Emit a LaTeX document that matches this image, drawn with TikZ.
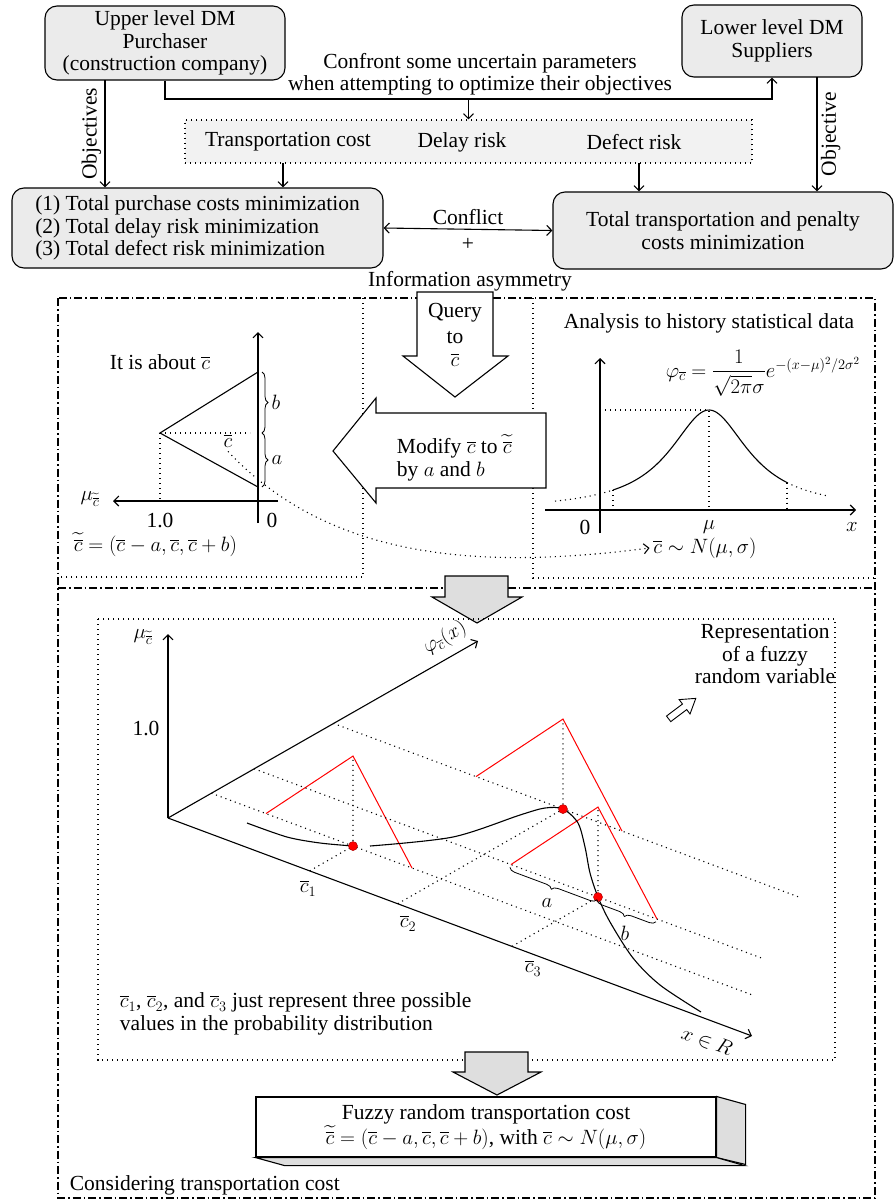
\documentclass[tikz,border=0pt]{standalone}
\usepackage{amsmath}
\usepackage{fontspec}
\setmainfont{Liberation Serif}
\usetikzlibrary{calc,arrows.meta,decorations.pathreplacing}

\newcommand{\cbr}{\overline{c}}
\newcommand{\cfz}{\widetilde{\overline{c}}}

\begin{document}
\begin{tikzpicture}[x=1pt, y=-1pt, line width=1.1pt,
  >={Straight Barb[length=5pt, width=10pt]},
  font=\fontsize{21.5}{22.5}\selectfont,
  rbox/.style = {draw, rounded corners=12pt, fill=black!8, align=center, inner sep=0pt},
  dotline/.style = {dash pattern=on 1.1pt off 3.9pt},
  dashdot/.style = {dash pattern=on 8pt off 3pt on 1.5pt off 3pt},
  fuzzy/.style = {red, line width=1pt},
  rdot/.style = {circle, fill=red, draw=red!70!black, line width=0.5pt, inner sep=0pt, minimum size=9pt},
  blockarr/.style = {draw, fill=white, line join=miter},
  grayarr/.style = {draw, fill=black!13, line join=miter}]

\useasboundingbox (0,0) rectangle (895,1202);

% decision makers and their objectives
\node[rbox, minimum width=240, minimum height=74] (upper) at (165,43) {Upper level DM\\Purchaser\\(construction company)};
\node[rbox, minimum width=180, minimum height=72] (lower) at (772,41) {Lower level DM\\Suppliers};
\node[align=center] (confront) at (480,74) {Confront some uncertain parameters\\when attempting to optimize their objectives};
\node[draw, dotline, fill=black!5, minimum width=567, minimum height=43] (params) at (468.5,141.5) {};
\node (tcost) at (288,142) {Transportation cost};
\node (delay) at (462,142) {Delay risk};
\node (defect) at (634,142) {Defect risk};
\node[rbox, align=left, minimum width=371, minimum height=80] (upobj) at (197.5,228) {(1) Total purchase costs minimization\\(2) Total delay risk minimization\\(3) Total defect risk minimization};
\node[rbox, minimum width=340, minimum height=77] (lowobj) at (723,230.5) {Total transportation and penalty\\costs minimization};

\coordinate (split) at (468.5,99);
\draw[->] (upper.south) |- (split) -| (lower.south);
\draw[->] (split) -- (params.north);
\coordinate (objl) at (105,80);
\coordinate (objr) at (817,77);
\draw[->] (objl) -- (objl |- upobj.north) node[midway, above, rotate=90] (objs) {Objectives};
\draw[->] (objr) -- (objr |- lowobj.north) node[midway, below, rotate=90] (obj) {Objective};
\coordinate (tca) at (283,163);
\coordinate (dfa) at (639,163);
\draw[->] (tca) -- (tca |- upobj.north);
\draw[->] (dfa) -- (dfa |- lowobj.north);
\draw[<->] (upobj.east) -- (lowobj.west) node[midway, above=1pt] (conf) {Conflict} node[midway, below=5pt] (plus) {+};

% information asymmetry panel
\node (info) at (470,281) {Information asymmetry};
\draw[dashdot] (58,298) rectangle (875,1198);
\draw[dashdot] (58,588) -- (875,588);
\draw[dotline] (363,298) -- (363,577) -- (58,577);
\draw[dotline] (533,298) -- (533,578) -- (875,578);

\draw[blockarr] (417,292) -- (493,292) -- (493,356) -- (508,356) -- (455,397) -- (403,356) -- (417,356) -- cycle;
\node[align=center] (query) at (455,335) {Query\\[3pt]to\\[1pt]$\cbr$};
\draw[blockarr] (546,413) -- (546,488) -- (376,488) -- (376,503) -- (333,451) -- (376,398) -- (376,413) -- cycle;
\node[align=left, anchor=west] (modify) at (393,458) {Modify $\cbr$ to $\cfz$\\by $a$ and $b$};

% triangular fuzzy number
\draw[->] (258,523) -- (258,332);
\draw[->] (278,501) -- (113,501);
\node (mul) at (90,499) {$\mu_{\cfz}$};
\node (one) at (160,520) {1.0};
\node (zero) at (272,520) {0};
\coordinate (ap) at (160,433);
\coordinate (tb) at (258,372);
\coordinate (ta) at (258,487);
\draw (tb) -- (ap) -- (ta);
\draw[dotline] (ap) -- (250,433);
\draw[dotline] (ap) -- (160,501);
\node (cbl) at (228,441) {$\cbr$};
\node (about) at (160,362) {It is about $\cbr$};
\draw[decorate, decoration={brace, amplitude=6pt}, line width=0.8pt] (262,372) -- (262,433) node[midway, right=6pt] (blab) {$b$};
\draw[decorate, decoration={brace, amplitude=6pt}, line width=0.8pt] (262,433) -- (262,487) node[midway, right=6pt] (alab) {$a$};
\node[anchor=west] (tfn) at (70,545) {$\cfz = (\cbr - a, \cbr, \cbr + b)$};

% normal distribution
\draw[->] (600,533) -- (600,358);
\draw[->] (545,510) -- (856,510);
\draw[dotline] (600,410) -- (709,410) -- (709,510);
\draw[domain=613:787, samples=80] plot (\x, {510-100/(1+((\x-709)/48)^2)});
\draw[dotline, domain=555:613, samples=20] plot (\x, {510-100/(1+((\x-709)/48)^2)});
\draw[dotline, domain=787:827, samples=20] plot (\x, {510-100/(1+((\x-709)/48)^2)});
\draw[dotline] (613,490) -- (613,510);
\draw[dotline] (787,482.5) -- (787,510);
\node (zr) at (585,527) {0};
\node (mu) at (709,527) {$\mu$};
\node (xl) at (852,527) {$x$};
\node (phi) at (763,373) {$\varphi_{\cbr} = \dfrac{1}{\sqrt{2\pi}\sigma}e^{-(x-\mu)^2/2\sigma^2}$};
\node (hist) at (709,323) {Analysis to history statistical data};
\node (norm) at (705,548) {$\cbr \sim N(\mu,\sigma)$};
\draw[dotline, ->] (cbl.south) .. controls (330,560) and (480,570) .. (norm.west);

\draw[grayarr] (445,576) -- (508,576) -- (508,597) -- (522,597) -- (477,623) -- (432,597) -- (445,597) -- cycle;

% fuzzy random variable
\draw[dotline] (98,619) rectangle (835,1060);
\coordinate (O) at (168,818);
\draw[->] (O) -- (168,634);
\draw[->] (O) -- (478,641);
\draw[->] (O) -- (752,1036);
\node (muz) at (143,637) {$\mu_{\cfz}$};
\node (onez) at (146,728) {1.0};
\node[rotate=29.7] (phiz) at (445,638) {$\varphi_{\cbr}(x)$};
\node[rotate=-20.5] (xr) at (707,1041) {$x \in R$};

\foreach \n/\t/\s/\e in {1/141.7/43.3/540.7, 2/229.8/165.2/466.8, 3/344/86/508} {
  \coordinate (P\n) at ($(O)+(\t,{0.373*\t})$);
  \coordinate (F\n) at ($(O)+(\s,{-0.573*\s})$);
  \coordinate (Q\n) at ($(P\n)+(\s,{-0.573*\s})$);
  \coordinate (E\n) at ($(F\n)+(\e,{0.373*\e})$);
  \coordinate (A\n) at ($(Q\n)+(0,-90)$);
  \coordinate (L\n) at ($(Q\n)+(-87,-32.5)$);
  \coordinate (R\n) at ($(Q\n)+(59,22)$);
  \draw[dotline] (F\n) -- (E\n);
  \draw[dotline] (P\n) -- (Q\n) -- (A\n);
  \draw[fuzzy] (L\n) -- (A\n) -- (R\n);
}

\draw plot[smooth] coordinates {(247,823) (287,837) (320,843) (353,846)};
\draw plot[smooth] coordinates {(370,846) (453,837) (520,815) (545,808) (563,809) (578,823) (585,847) (590,873) (598,897) (610,922) (633,958) (660,985) (701,1012)};

\foreach \n in {1,2,3} \node[rdot] (d\n) at (Q\n) {};

\node (c1) at (308,888) {$\cbr_1$};
\node (c2) at (408,923) {$\cbr_2$};
\node (c3) at (533,968) {$\cbr_3$};
\draw[decorate, decoration={brace, mirror, amplitude=6pt, raise=3pt}, line width=0.8pt] (L3) -- (Q3);
\draw[decorate, decoration={brace, mirror, amplitude=6pt, raise=3pt}, line width=0.8pt] (Q3) -- (R3);
\node (az) at (547,903) {$a$};
\node (bz) at (625,933) {$b$};

\node[align=center] (repr) at (765,654) {Representation\\of a fuzzy\\random variable};
\begin{scope}[shift={(683,708)}, rotate=37]
  \draw[blockarr, line width=0.9pt] (-18,-3.5) -- (2,-3.5) -- (2,-9) -- (16,0) -- (2,9) -- (2,3.5) -- (-18,3.5) -- cycle;
\end{scope}

\node[align=left, anchor=west] (three) at (116,1014) {$\cbr_1$, $\cbr_2$, and $\cbr_3$ just represent three possible\\values in the probability distribution};

% result
\draw[grayarr] (465,1052) -- (528,1052) -- (528,1072) -- (541,1072) -- (497,1095) -- (453,1072) -- (465,1072) -- cycle;
\node[draw, fill=white, minimum width=460, minimum height=60, align=center] (frc) at (486,1127) {Fuzzy random transportation cost\\$\cfz = (\cbr - a, \cbr, \cbr + b)$, with $\cbr \sim N(\mu,\sigma)$};
\draw[fill=black!13] (frc.north east) -- ++(29,8) -- ++(0,60) -- (frc.south east) -- cycle;
\draw[fill=black!13] (frc.south west) -- ++(29,8) -- ++(460,0) -- (frc.south east) -- cycle;
\node[anchor=west] (consider) at (66,1185) {Considering transportation cost};

\end{tikzpicture}
\end{document}
